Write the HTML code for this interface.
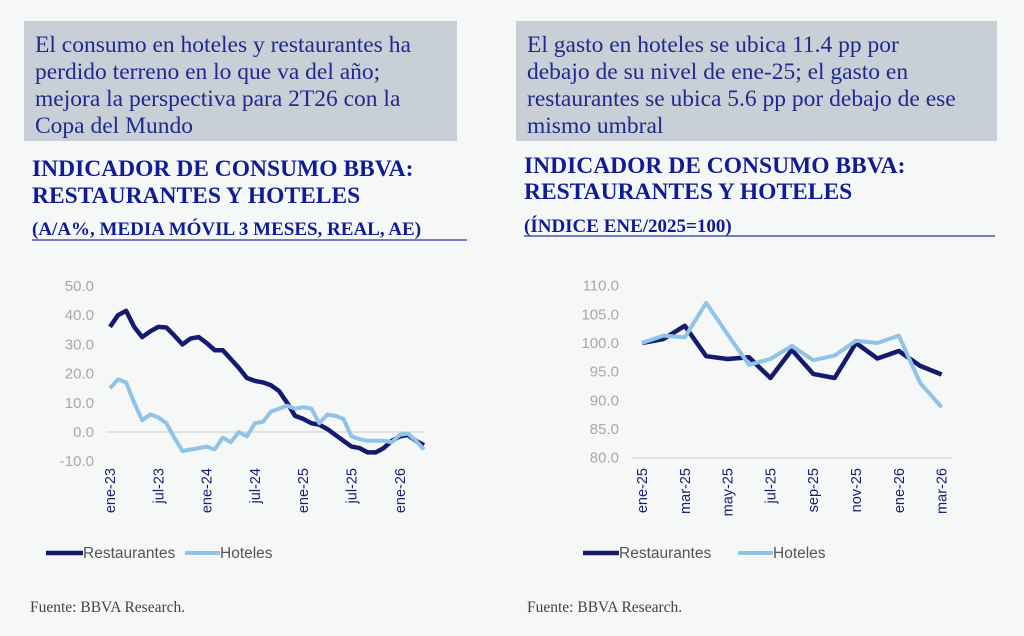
<!DOCTYPE html>
<html><head><meta charset="utf-8"><style>
body{margin:0;background:#f6f7f7;}
svg{display:block}
.b{font-family:"Liberation Serif",serif;font-size:23.5px;fill:#1f2a8c}
.t{font-family:"Liberation Serif",serif;font-size:23.5px;font-weight:bold;fill:#0f1c96}
.s{font-family:"Liberation Serif",serif;font-size:19px;font-weight:bold;fill:#0f1c96}
.ax{font-family:"Liberation Sans",sans-serif;font-size:15px;fill:#a8a8a8}
.xl{font-family:"Liberation Sans",sans-serif;font-size:14.5px;fill:#1a2070}
.lg{font-family:"Liberation Sans",sans-serif;font-size:15.5px;fill:#555}
.f{font-family:"Liberation Serif",serif;font-size:15.5px;fill:#444}
</style></head><body>
<svg id="s" width="1024" height="636" xmlns="http://www.w3.org/2000/svg">
<rect x="24" y="21" width="433" height="120" fill="#c9cfd6"/>
<rect x="516" y="21" width="481" height="120" fill="#c9cfd6"/>
<text class="b" x="35" y="52">El consumo en hoteles y restaurantes ha</text>
<text class="b" x="35" y="79">perdido terreno en lo que va del año;</text>
<text class="b" x="35" y="106">mejora la perspectiva para 2T26 con la</text>
<text class="b" x="35" y="133">Copa del Mundo</text>
<text class="b" x="527" y="52">El gasto en hoteles se ubica 11.4 pp por</text>
<text class="b" x="527" y="79">debajo de su nivel de ene-25; el gasto en</text>
<text class="b" x="527" y="106">restaurantes se ubica 5.6 pp por debajo de ese</text>
<text class="b" x="527" y="133">mismo umbral</text>
<text class="t" x="32" y="176">INDICADOR DE CONSUMO BBVA:</text>
<text class="t" x="32" y="203">RESTAURANTES Y HOTELES</text>
<text class="s" x="32" y="235">(A/A%, MEDIA MÓVIL 3 MESES, REAL, AE)</text>
<line x1="32" y1="240" x2="467" y2="240" stroke="#2a35a0" stroke-width="1.2"/>
<text class="t" x="524" y="173">INDICADOR DE CONSUMO BBVA:</text>
<text class="t" x="524" y="199">RESTAURANTES Y HOTELES</text>
<text class="s" x="524" y="232">(ÍNDICE ENE/2025=100)</text>
<line x1="524" y1="236" x2="995" y2="236" stroke="#2a35a0" stroke-width="1.2"/>
<text class="f" x="30" y="612">Fuente: BBVA Research.</text>
<text class="f" x="527" y="612">Fuente: BBVA Research.</text>
<g id="g"></g>
</svg>
<script>
var g=document.getElementById('g'),h='';
function P(arr,fx,fy){return arr.map(function(v,i){return fx(i).toFixed(1)+','+fy(v).toFixed(1)}).join(' ')}
var ly=function(v){return 432-v*2.92}, lx=function(i){return 110+i*8.05};
[50,40,30,20,10,0,-10].forEach(function(v){h+='<text class="ax" x="94" y="'+(ly(v)+5)+'" text-anchor="end">'+v.toFixed(1)+'</text>'});
h+='<line x1="106" y1="432" x2="424" y2="432" stroke="#ccc"/>';
['ene-23','jul-23','ene-24','jul-24','ene-25','jul-25','ene-26'].forEach(function(l,k){var x=lx(k*6)+5;h+='<text class="xl" transform="translate('+x+',468) rotate(-90)" text-anchor="end">'+l+'</text>'});
var R=[36,40,41.5,36,32.5,34.5,36,35.8,33,30,32,32.5,30.5,28,28,25,22,18.5,17.5,17,16,14,10,5.5,4.5,3,2.5,1,-1,-3,-5,-5.5,-7,-7,-5.5,-3,-1.5,-1,-3,-4.5];
var H=[15,18,17,10,4,6,5,3,-2,-6.5,-6,-5.5,-5,-6,-2,-3.5,0,-1.5,3,3.5,7,8,9,8,8.5,8,3,6,5.5,4.5,-1.5,-2.5,-3,-3,-3,-3.5,-1,-0.5,-3,-6];
h+='<polyline points="'+P(R,lx,ly)+'" fill="none" stroke="#141a6e" stroke-width="4.5" stroke-linejoin="round"/>';
h+='<polyline points="'+P(H,lx,ly)+'" fill="none" stroke="#8fc3e8" stroke-width="4" stroke-linejoin="round"/>';
h+='<line x1="46" y1="553" x2="83" y2="553" stroke="#141a6e" stroke-width="4.5"/><text class="lg" x="83" y="558">Restaurantes</text>';
h+='<line x1="185" y1="553" x2="220" y2="553" stroke="#8fc3e8" stroke-width="4"/><text class="lg" x="220" y="558">Hoteles</text>';
var ry=function(v){return 343-(v-100)*5.73}, rx=function(i){return 642+i*21.4};
[110,105,100,95,90,85,80].forEach(function(v){h+='<text class="ax" x="619" y="'+(ry(v)+5)+'" text-anchor="end">'+v.toFixed(1)+'</text>'});
h+='<line x1="632" y1="458" x2="952" y2="458" stroke="#ccc"/>';
['ene-25','mar-25','may-25','jul-25','sep-25','nov-25','ene-26','mar-26'].forEach(function(l,k){var x=rx(k*2)+5;h+='<text class="xl" transform="translate('+x+',468) rotate(-90)" text-anchor="end">'+l+'</text>'});
var R2=[100,100.7,103,97.7,97.2,97.5,93.9,98.8,94.6,93.9,100,97.3,98.6,96,94.5];
var H2=[100,101.3,101,107,101.5,96.2,97.2,99.5,97,97.8,100.4,100,101.3,93,88.8];
h+='<polyline points="'+P(R2,rx,ry)+'" fill="none" stroke="#141a6e" stroke-width="4.5" stroke-linejoin="round"/>';
h+='<polyline points="'+P(H2,rx,ry)+'" fill="none" stroke="#8fc3e8" stroke-width="4" stroke-linejoin="round"/>';
h+='<line x1="583" y1="553" x2="619" y2="553" stroke="#141a6e" stroke-width="4.5"/><text class="lg" x="619" y="558">Restaurantes</text>';
h+='<line x1="738" y1="553" x2="773" y2="553" stroke="#8fc3e8" stroke-width="4"/><text class="lg" x="773" y="558">Hoteles</text>';
g.innerHTML=h;
</script>
</body></html>
